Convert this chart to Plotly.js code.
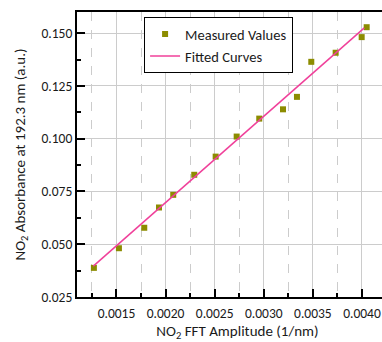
<!DOCTYPE html>
<html>
<head>
<meta charset="utf-8">
<script src="https://cdn.plot.ly/plotly-3.0.1.min.js"></script>
<style>
html, body { margin:0; padding:0; overflow:hidden; background:#fff; }
#chart { width:400px; height:342px; }
</style>
</head>
<body>
<div id="chart"></div>
<script>
// Measured values
const fftAmplitude = [0.00127, 0.001525, 0.001783, 0.001933, 0.002078, 0.002292, 0.00251, 0.002724, 0.002954, 0.003196, 0.003338, 0.003484, 0.003732, 0.003997, 0.004048];
const absorbance   = [0.0388, 0.0481, 0.0578, 0.0674, 0.0734, 0.0829, 0.0915, 0.1010, 0.1095, 0.1139, 0.1198, 0.1364, 0.1407, 0.1481, 0.1528];
// Fitted line (endpoints)
const fitX = [0.001264, 0.004024];
const fitY = [0.0396, 0.1525];

const FONT = 'Carlito, Lato, sans-serif';
const TXT = '#1a1a1a';

const traces = [
  {
    x: fftAmplitude, y: absorbance, type: 'scatter', mode: 'markers',
    name: 'Measured Values',
    marker: { symbol: 'square', size: 6, color: '#8C8C00' }
  },
  {
    x: fitX, y: fitY, type: 'scatter', mode: 'lines',
    name: 'Fitted Curves',
    line: { color: '#F0409A', width: 1.5 }
  }
];

const layout = {
  width: 400, height: 342,
  margin: { l: 77, r: 2, t: 12, b: 45 },
  paper_bgcolor: '#fff', plot_bgcolor: '#fff',
  font: { family: FONT, size: 13.5, color: TXT },
  showlegend: true,
  legend: {
    x: 0.209, y: 0.982, xanchor: 'left', yanchor: 'top',
    bordercolor: '#000', borderwidth: 1, bgcolor: '#fff',
    font: { family: FONT, size: 14.5, color: TXT },
    tracegroupgap: 0
  },
  xaxis: {
    range: [0.001098, 0.004367],
    tick0: 0.0015, dtick: 0.0005, tickformat: '.4f',
    ticks: 'inside', ticklen: 8, tickwidth: 2, tickcolor: '#000',
    ticklabelstandoff: 3,
    showline: true, linewidth: 2, linecolor: '#000', mirror: true,
    showgrid: true, gridcolor: '#CCCCCC', gridwidth: 1,
    zeroline: false,
    minor: { dtick: 0.00025, tick0: 0.00125, ticks: 'inside', ticklen: 4, tickwidth: 2, tickcolor: '#000',
             showgrid: true, gridcolor: '#CCCCCC', griddash: 'dash', gridwidth: 1 },
    title: { text: 'NO<sub>2</sub> FFT Amplitude (1/nm)', font: { family: FONT, size: 15, color: TXT }, standoff: 10 },
    tickfont: { family: FONT, size: 13.5, color: TXT }
  },
  yaxis: {
    range: [0.025, 0.160],
    tick0: 0.025, dtick: 0.025, tickformat: '.3f',
    ticks: 'inside', ticklen: 8, tickwidth: 2, tickcolor: '#000',
    showline: true, linewidth: 2, linecolor: '#000', mirror: true,
    showgrid: true, gridcolor: '#CCCCCC', gridwidth: 1,
    zeroline: false,
    minor: { dtick: 0.0125, ticks: 'inside', ticklen: 4, tickwidth: 2, tickcolor: '#000', showgrid: false },
    title: { text: 'NO<sub>2</sub> Absorbance at 192.3 nm (a.u.)', font: { family: FONT, size: 15, color: TXT }, standoff: 12 },
    tickfont: { family: FONT, size: 13.5, color: TXT }
  }
};

Plotly.newPlot('chart', traces, layout, { displayModeBar: false, staticPlot: true });
</script>
</body>
</html>
